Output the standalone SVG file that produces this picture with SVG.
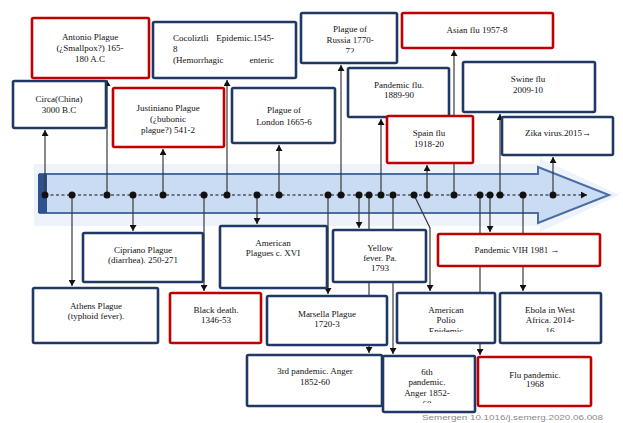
<svg xmlns="http://www.w3.org/2000/svg" width="623" height="423" viewBox="0 0 623 423">
<style>
.bx{fill:#fff;stroke-width:2.6}
.nv{stroke:#1f3864}
.rd{stroke:#c00000}
.t{font-family:"Liberation Serif","Times New Roman",serif;font-size:9px;fill:#111;text-anchor:middle}
.ts{text-anchor:start}
.te{text-anchor:end}
.ln{stroke:#3a3a3a;stroke-width:1.2;fill:none}
.dot{fill:#111}
</style>
<defs>
<marker id="ah" markerUnits="userSpaceOnUse" markerWidth="7" markerHeight="7" refX="6" refY="3.5" orient="auto">
<path d="M0,0 L6,3.5 L0,7 z" fill="#111"/>
</marker>
<clipPath id="c1"><rect x="300" y="10" width="100" height="43"/></clipPath>
<clipPath id="c2"><rect x="395" y="290" width="102" height="42"/></clipPath>
<clipPath id="c3"><rect x="498" y="290" width="105" height="42"/></clipPath>
<clipPath id="c4"><rect x="381" y="354" width="96" height="49"/></clipPath>
</defs>
<rect width="623" height="423" fill="#fff"/>

<g id="timeline">
<polygon points="34,164 540,164 540,158 619,195 540,232 540,226 34,226" fill="#eef3fb"/>
<polygon points="40,174 538,174 538,167 609,195 538,223 538,213 40,213" fill="#c9dcf3" stroke="#4a6da3" stroke-width="2"/>
<rect x="38" y="174" width="9" height="39" fill="#2e5290"/>
<line x1="45" y1="195" x2="587" y2="195" stroke="#111" stroke-width="1" stroke-dasharray="3,2.5" marker-end="url(#ah)"/>
</g>

<g id="connectors">
<line class="ln" x1="45" y1="195" x2="45" y2="130" marker-end="url(#ah)"/>
<line class="ln" x1="107" y1="195" x2="107" y2="80" marker-end="url(#ah)"/>
<line class="ln" x1="163" y1="195" x2="163" y2="149" marker-end="url(#ah)"/>
<line class="ln" x1="227" y1="195" x2="227" y2="80" marker-end="url(#ah)"/>
<line class="ln" x1="279" y1="195" x2="279" y2="145" marker-end="url(#ah)"/>
<line class="ln" x1="341" y1="195" x2="341" y2="65" marker-end="url(#ah)"/>
<line class="ln" x1="381" y1="195" x2="381" y2="119" marker-end="url(#ah)"/>
<line class="ln" x1="427" y1="195" x2="427" y2="165" marker-end="url(#ah)"/>
<line class="ln" x1="454" y1="195" x2="454" y2="50" marker-end="url(#ah)"/>
<line class="ln" x1="500" y1="195" x2="500" y2="114" marker-end="url(#ah)"/>
<line class="ln" x1="553" y1="195" x2="553" y2="157" marker-end="url(#ah)"/>
<line class="ln" x1="72" y1="195" x2="72" y2="286" marker-end="url(#ah)"/>
<line class="ln" x1="133" y1="195" x2="133" y2="231" marker-end="url(#ah)"/>
<line class="ln" x1="204" y1="195" x2="204" y2="291" marker-end="url(#ah)"/>
<line class="ln" x1="257" y1="195" x2="257" y2="224" marker-end="url(#ah)"/>
<line class="ln" x1="328" y1="195" x2="328" y2="294" marker-end="url(#ah)"/>
<line class="ln" x1="359" y1="195" x2="359" y2="228" marker-end="url(#ah)"/>
<line class="ln" x1="369" y1="195" x2="369" y2="353" marker-end="url(#ah)"/>
<line class="ln" x1="393" y1="195" x2="393" y2="354" marker-end="url(#ah)"/>
<polyline class="ln" points="414,195 430,228 430,291" marker-end="url(#ah)"/>
<line class="ln" x1="480" y1="195" x2="480" y2="355" marker-end="url(#ah)"/>
<line class="ln" x1="490" y1="195" x2="490" y2="232" marker-end="url(#ah)"/>
<line class="ln" x1="523" y1="195" x2="523" y2="291" marker-end="url(#ah)"/>
</g>

<g id="dots">
<circle class="dot" cx="45" cy="195" r="3.5"/><circle class="dot" cx="72" cy="195" r="3.5"/>
<circle class="dot" cx="107" cy="195" r="3.5"/><circle class="dot" cx="133" cy="195" r="3.5"/>
<circle class="dot" cx="163" cy="195" r="3.5"/><circle class="dot" cx="204" cy="195" r="3.5"/>
<circle class="dot" cx="227" cy="195" r="3.5"/><circle class="dot" cx="257" cy="195" r="3.5"/>
<circle class="dot" cx="279" cy="195" r="3.5"/><circle class="dot" cx="328" cy="195" r="3.5"/>
<circle class="dot" cx="341" cy="195" r="3.5"/><circle class="dot" cx="359" cy="195" r="3.5"/>
<circle class="dot" cx="369" cy="195" r="3.5"/><circle class="dot" cx="381" cy="195" r="3.5"/>
<circle class="dot" cx="393" cy="195" r="3.5"/><circle class="dot" cx="414" cy="195" r="3.5"/>
<circle class="dot" cx="427" cy="195" r="3.5"/><circle class="dot" cx="454" cy="195" r="3.5"/>
<circle class="dot" cx="480" cy="195" r="3.5"/><circle class="dot" cx="490" cy="195" r="3.5"/>
<circle class="dot" cx="500" cy="195" r="3.5"/><circle class="dot" cx="523" cy="195" r="3.5"/>
<circle class="dot" cx="553" cy="195" r="3.5"/>
</g>

<g id="antonio"><rect class="bx rd" x="32" y="18" width="117" height="60" rx="1.5"/>
<text class="t" x="90" y="40">Antonio Plague</text><text class="t" x="90" y="51">(¿Smallpox?) 165-</text><text class="t" x="90" y="62">180 A.C</text></g>
<g id="circa"><rect class="bx nv" x="13" y="81" width="93" height="47" rx="1.5"/>
<text class="t" x="59" y="102">Circa(China)</text><text class="t" x="59" y="113">3000 B.C</text></g>
<g id="justiniano"><rect class="bx rd" x="113" y="88" width="111" height="59" rx="1.5"/>
<text class="t" x="168" y="111">Justiniano Plague</text><text class="t" x="168" y="122">(¿bubonic</text><text class="t" x="168" y="133">plague?) 541-2</text></g>
<g id="cocoliztli"><rect class="bx nv" x="153" y="22" width="143" height="56" rx="1.5"/>
<text class="t ts" x="173" y="41">Cocoliztli</text><text class="t te" x="274" y="41">Epidemic.1545-</text>
<text class="t ts" x="173" y="52">8</text>
<text class="t ts" x="173" y="63">(Hemorrhagic</text><text class="t te" x="274" y="63">enteric</text></g>
<g id="london"><rect class="bx nv" x="232" y="88" width="103" height="55" rx="1.5"/>
<text class="t" x="284" y="113">Plague of</text><text class="t" x="284" y="125">London 1665-6</text></g>
<g id="russia"><rect class="bx nv" x="301" y="13" width="96" height="50" rx="1.5"/>
<text class="t" x="350" y="32">Plague of</text><text class="t" x="350" y="43">Russia 1770-</text><text class="t" x="350" y="54" clip-path="url(#c1)">72</text></g>
<g id="pandemic-flu"><rect class="bx nv" x="348" y="68" width="101" height="49" rx="1.5"/>
<text class="t" x="399" y="88">Pandemic flu.</text><text class="t" x="399" y="98">1889-90</text></g>
<g id="spain-flu"><rect class="bx rd" x="387" y="116" width="86" height="47" rx="1.5"/>
<text class="t" x="429" y="136">Spain flu</text><text class="t" x="429" y="147">1918-20</text></g>
<g id="asian-flu"><rect class="bx rd" x="402" y="13" width="151" height="35" rx="1.5"/>
<text class="t" x="477" y="33">Asian flu 1957-8</text></g>
<g id="swine-flu"><rect class="bx nv" x="463" y="62" width="132" height="50" rx="1.5"/>
<text class="t" x="528" y="82">Swine flu</text><text class="t" x="528" y="93">2009-10</text></g>
<g id="zika"><rect class="bx nv" x="502" y="117" width="111" height="38" rx="1.5"/>
<text class="t" x="558" y="136">Zika virus.2015→</text></g>
<g id="cipriano"><rect class="bx nv" x="83" y="233" width="120" height="49" rx="1.5"/>
<text class="t" x="143" y="253">Cipriano Plague</text><text class="t" x="143" y="263">(diarrhea). 250-271</text></g>
<g id="athens"><rect class="bx nv" x="33" y="288" width="125" height="55" rx="1.5"/>
<text class="t" x="96" y="309">Athens Plague</text><text class="t" x="96" y="319">(typhoid fever).</text></g>
<g id="black-death"><rect class="bx rd" x="170" y="293" width="91" height="50" rx="1.5"/>
<text class="t" x="216" y="313">Black death.</text><text class="t" x="216" y="323">1346-53</text></g>
<g id="american-plagues"><rect class="bx nv" x="220" y="226" width="107" height="62" rx="1.5"/>
<text class="t" x="273" y="246">American</text><text class="t" x="273" y="256">Plagues c. XVI</text></g>
<g id="marsella"><rect class="bx nv" x="267" y="296" width="120" height="49" rx="1.5"/>
<text class="t" x="327" y="317">Marsella Plague</text><text class="t" x="327" y="327">1720-3</text></g>
<g id="yellow-fever"><rect class="bx nv" x="333" y="230" width="93" height="52" rx="1.5"/>
<text class="t" x="380" y="251">Yellow</text><text class="t" x="380" y="261">fever. Pa.</text><text class="t" x="380" y="271">1793</text></g>
<g id="third-pandemic"><rect class="bx nv" x="247" y="355" width="135" height="51" rx="1.5"/>
<text class="t" x="315" y="374">3rd pandemic. Anger</text><text class="t" x="315" y="385">1852-60</text></g>
<g id="american-polio"><rect class="bx nv" x="397" y="293" width="98" height="50" rx="1.5"/>
<text class="t" x="446" y="313">American</text><text class="t" x="446" y="323">Polio</text><text class="t" x="446" y="334" clip-path="url(#c2)">Epidemic</text></g>
<g id="ebola"><rect class="bx nv" x="500" y="293" width="101" height="50" rx="1.5"/>
<text class="t" x="550" y="313">Ebola in West</text><text class="t" x="550" y="323">Africa. 2014-</text><text class="t" x="550" y="334" clip-path="url(#c3)">16</text></g>
<g id="sixth-pandemic"><rect class="bx nv" x="383" y="356" width="92" height="56" rx="1.5"/>
<text class="t" x="427" y="375">6th</text><text class="t" x="427" y="385">pandemic.</text><text class="t" x="427" y="396">Anger 1852-</text><text class="t" x="427" y="407" clip-path="url(#c4)">60</text></g>
<g id="flu-pandemic"><rect class="bx rd" x="478" y="357" width="113" height="49" rx="1.5"/>
<text class="t" x="535" y="378">Flu pandemic.</text><text class="t" x="535" y="387">1968</text></g>
<g id="vih"><rect class="bx rd" x="438" y="234" width="162" height="32" rx="1.5"/>
<text class="t" x="517" y="253">Pandemic VIH 1981 →</text></g>

<text x="422" y="420" font-family="Liberation Sans, Arial, sans-serif" font-size="8" fill="#8a8a8a" textLength="181" lengthAdjust="spacingAndGlyphs">Semergen 10.1016/j.semerg.2020.06.008</text>
</svg>
